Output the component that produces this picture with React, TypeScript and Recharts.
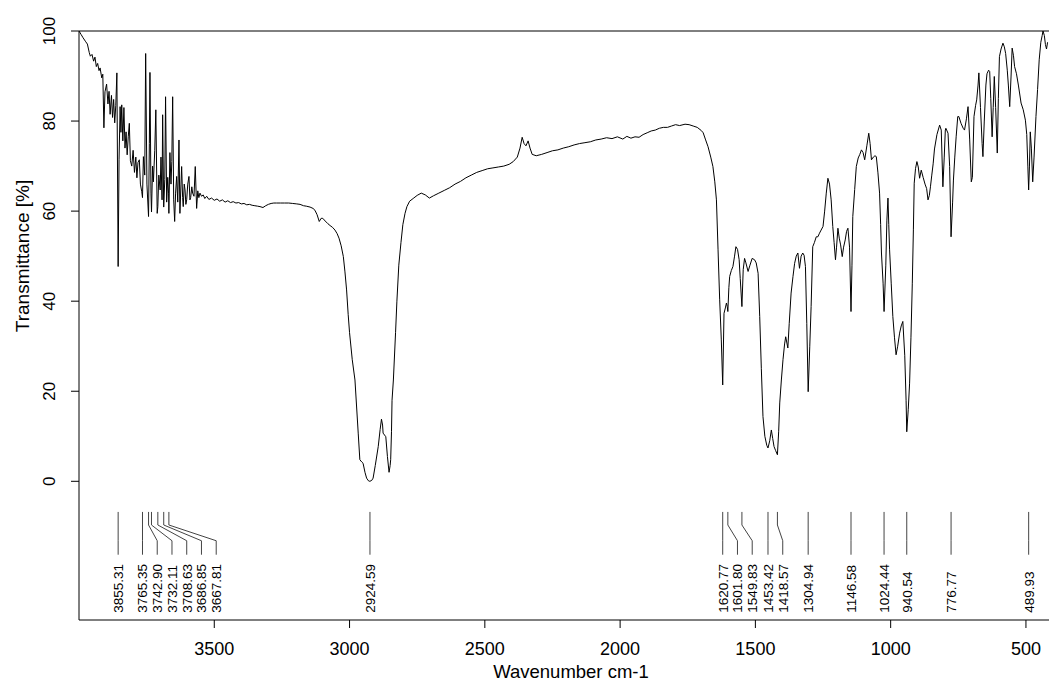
import React from 'react';
import { LineChart, Line, XAxis, YAxis, ReferenceLine, ReferenceDot, Label } from 'recharts';

const FONT = '"Liberation Sans", Arial, Helvetica, sans-serif';

// O-H / overtone region (noisy)
const regionHigh: [number, number][] = [
  [4000, 100], [3992, 99.2], [3985, 98.5], [3975, 97.6], [3969, 97.1], [3962, 95.2], [3958, 94.4],
  [3952, 94.8], [3946, 93.3], [3941, 94.2], [3936, 92.1], [3931, 92.8], [3926, 91.2], [3922, 91.8],
  [3916, 89.6], [3912, 90.4], [3908, 78.5], [3904, 86.5], [3898, 88.2], [3893, 83.8], [3889, 86.6],
  [3885, 81.5], [3880, 85.7], [3876, 80.8], [3872, 84.8], [3868, 79.6], [3864, 83.5], [3860, 90.7],
  [3855.3, 47.7], [3852, 71.4], [3848, 83.2], [3845, 77.5], [3842, 83.6], [3838, 75.6], [3834, 83.0],
  [3830, 74.0], [3826, 77.6], [3822, 72.5], [3818, 76.5], [3814, 79.5], [3810, 71.2], [3805, 70.0],
  [3800, 73.5], [3795, 68.6], [3790, 72.0], [3786, 67.4], [3782, 70.8], [3777, 71.4], [3773, 66.0],
  [3768, 64.3], [3765.3, 63.0], [3762, 72.1], [3757, 68.0], [3753.6, 95.0], [3749, 66.0], [3743, 58.8],
  [3740, 75.0], [3737.7, 90.8], [3734, 64.0], [3732, 59.8], [3728, 70.0], [3725, 66.5], [3720, 73.5],
  [3716, 82.5], [3711, 59.5], [3708.6, 61.0], [3705, 68.0], [3700, 64.7], [3697, 72.0], [3693, 62.5],
  [3690.8, 81.4], [3686.9, 60.9], [3683, 67.0], [3680, 85.4], [3676, 62.0], [3672, 67.5], [3669, 64.0],
  [3667.8, 59.5], [3664, 73.0], [3660, 66.0], [3657, 71.0], [3653.8, 85.4], [3650, 62.5], [3646.4, 57.7],
  [3643, 64.0], [3639, 67.7], [3635, 62.0], [3630.5, 75.8], [3627, 59.5], [3623, 66.0], [3620.6, 69.9],
  [3617, 63.0], [3614.7, 61.0], [3611, 66.0], [3608, 64.7], [3605, 61.5], [3602, 62.5], [3598, 66.0],
  [3593.6, 67.7], [3590, 62.5], [3587.3, 63.0], [3583, 65.4], [3580, 64.0], [3575, 63.3], [3570.3, 69.9],
  [3565.2, 60.6], [3561, 64.5], [3557, 63.0], [3553, 64.0],
];

// plateau and C-H stretch
const regionCH: [number, number][] = [
  [3547, 63.3], [3541, 63.6], [3535, 62.8], [3528, 63.3], [3520, 62.6], [3510, 62.9], [3500, 62.4],
  [3490, 62.7], [3480, 62.2], [3470, 62.5], [3460, 62.0], [3450, 62.3], [3440, 61.9], [3430, 62.1],
  [3420, 61.8], [3410, 61.9], [3400, 61.6], [3390, 61.7], [3380, 61.4], [3370, 61.5], [3360, 61.3],
  [3350, 61.2], [3340, 61.1], [3331, 61.0], [3320, 60.8], [3310, 61.2], [3300, 61.5], [3290, 61.7],
  [3280, 61.8], [3270, 61.8], [3255, 61.8], [3240, 61.8], [3225, 61.8], [3210, 61.7], [3195, 61.6],
  [3183, 61.5], [3170, 61.2], [3160, 61.1], [3146, 60.9], [3135, 60.6], [3128, 60.2], [3120, 59.2],
  [3112, 57.7], [3105, 58.4], [3099, 58.4], [3090, 57.8], [3080, 57.2], [3072, 56.8], [3063, 56.4],
  [3054, 55.8], [3046, 55.0], [3039, 54.0], [3031, 52.3], [3023, 49.9], [3017, 46.5], [3011, 42.5],
  [3005, 37.0], [3000, 33.0], [2990, 27.0], [2980, 22.5], [2968, 10.7], [2962, 4.8], [2955, 4.3],
  [2950, 4.0], [2943, 2.0], [2937, 0.7], [2930, 0.1], [2925, 0.0], [2918, 0.2], [2913, 0.7],
  [2905, 3.5], [2894, 7.7], [2887, 11.5], [2882, 13.8], [2878, 12.5], [2876, 10.7], [2866, 9.9],
  [2860, 5.5], [2854, 2.0], [2850, 3.5], [2848, 4.8], [2845, 11.0], [2843, 18.0], [2838, 22.5],
  [2830, 33.0], [2825, 40.0], [2818, 48.0], [2810, 53.0], [2803, 57.0], [2795, 59.5], [2788, 61.0],
  [2778, 62.2], [2765, 62.8], [2750, 63.5], [2735, 64.0], [2720, 63.6], [2705, 62.9], [2690, 63.4],
];

// mid range up to the carbonyl region
const regionMid: [number, number][] = [
  [2670, 64.0], [2650, 64.6], [2630, 65.2], [2610, 66.0], [2590, 66.6], [2570, 67.4], [2550, 68.0],
  [2530, 68.6], [2510, 69.0], [2490, 69.4], [2470, 69.6], [2450, 69.8], [2430, 70.0], [2410, 70.4],
  [2395, 71.0], [2380, 72.0], [2370, 74.0], [2362, 76.4], [2355, 75.0], [2348, 74.5], [2340, 75.6],
  [2333, 74.0], [2325, 72.6], [2310, 72.3], [2290, 72.6], [2270, 73.0], [2250, 73.4], [2230, 73.6],
  [2210, 74.0], [2190, 74.3], [2170, 74.7], [2150, 75.0], [2130, 75.2], [2110, 75.4], [2090, 75.8],
  [2070, 76.0], [2050, 76.3], [2030, 76.1], [2010, 76.5], [1990, 76.0], [1975, 76.6], [1960, 76.2],
  [1945, 76.5], [1930, 76.4], [1915, 77.0], [1900, 77.4], [1885, 77.8], [1870, 78.0], [1855, 78.4],
  [1840, 78.6], [1825, 78.6], [1810, 78.9], [1795, 79.2], [1780, 79.0], [1760, 79.3], [1745, 79.2],
  [1730, 78.9], [1715, 78.6], [1700, 77.9], [1693, 77.4], [1685, 76.0], [1675, 74.3], [1665, 72.0],
  [1657, 69.9], [1650, 66.5], [1644, 62.5], [1638, 51.4], [1632, 40.3], [1626, 31.4],
];

// fingerprint region
const regionFinger: [number, number][] = [
  [1620.8, 21.4], [1616, 37.3], [1611, 38.5], [1607, 39.6], [1604, 38.8], [1601.8, 37.7], [1598, 43.0],
  [1595, 45.5], [1589, 46.8], [1583, 47.7], [1577, 50.0], [1572, 52.1], [1566, 51.5], [1560, 49.2],
  [1556, 45.0], [1549.8, 38.8], [1545, 47.0], [1540, 49.5], [1535, 48.5], [1527, 46.6], [1520, 48.0],
  [1512, 49.5], [1503, 49.2], [1497, 48.5], [1490, 46.2], [1484, 36.6], [1478, 25.0], [1472, 14.4],
  [1465, 10.0], [1458, 8.0], [1453.4, 7.4], [1447, 9.0], [1441, 11.4], [1436, 9.5], [1431, 7.7],
  [1425, 6.8], [1418.6, 5.9], [1414, 11.0], [1410, 17.4], [1404, 22.5], [1398, 27.0], [1392, 30.5],
  [1388, 32.1], [1380, 29.6], [1375, 35.0], [1368, 41.8], [1361, 45.5], [1355, 48.4], [1349, 50.0],
  [1343, 50.7], [1337, 47.3], [1331, 50.0], [1325, 50.7], [1320, 50.2], [1315, 47.7], [1310, 35.0],
  [1304.9, 19.9], [1299, 30.0], [1294, 38.8], [1288, 52.1], [1282, 53.0], [1275, 54.3], [1269, 54.3],
  [1263, 55.1], [1257, 55.8], [1250, 56.6], [1244, 60.0], [1238, 64.0], [1232, 67.3], [1226, 66.0],
  [1220, 62.5], [1214, 56.6], [1209, 53.0], [1204, 49.2], [1200, 52.0], [1195, 56.2], [1190, 54.0],
  [1185, 52.5], [1179, 49.9], [1174, 52.0], [1168, 53.6], [1163, 55.5], [1158, 56.2], [1152, 52.0],
  [1146.6, 37.7], [1143, 48.0], [1140, 58.8], [1133, 64.8], [1127, 69.9], [1120, 71.8], [1114, 72.6],
  [1108, 73.6], [1102, 73.0], [1096, 71.4], [1088, 74.5], [1081, 77.3], [1076, 75.0], [1071, 71.4],
  [1064, 72.0], [1058, 72.3], [1053, 72.1], [1047, 68.5], [1041, 64.0], [1037, 57.0], [1034, 50.7],
  [1028, 44.0], [1024.4, 37.7], [1018, 48.0], [1014, 58.0], [1010, 62.9], [1007, 57.0], [1004, 51.4],
  [998, 44.0], [992, 36.6], [986, 32.0], [980, 28.1], [974, 30.0], [967, 32.9], [961, 34.5],
  [955, 35.5], [948, 28.0], [943, 18.0], [940.5, 11.0], [935, 16.0], [930, 21.8], [925, 32.0],
  [920, 44.0], [916, 56.0], [913, 66.2], [908, 69.5], [903, 71.0], [898, 69.8], [893, 67.3],
  [887, 69.1], [880, 67.5], [873, 66.0], [867, 65.0], [862, 62.5], [857, 63.5], [853, 65.4],
  [848, 68.0], [843, 70.5], [838, 73.8], [829, 77.0], [819, 79.1], [813, 78.0], [807, 65.4],
  [802, 72.0], [798, 78.0], [796, 78.4], [788, 77.3], [782, 69.9], [776.8, 54.3], [771, 62.0],
  [768, 66.9], [763, 72.0], [758, 76.5], [752, 81.0], [748, 81.0], [740, 79.5], [732, 78.4],
  [727, 78.0], [720, 80.5], [714, 83.2], [708, 76.0], [702, 66.5], [698, 67.5], [692, 81.0],
  [686, 83.5], [682, 84.7], [677, 88.0], [674, 90.7], [668, 83.0], [662, 75.0], [659, 72.1],
  [654, 80.0], [648, 88.0], [644, 90.5], [638, 91.3], [634, 91.0], [630, 85.0], [625, 76.5],
  [621, 83.0], [617, 89.9], [612, 83.0], [606, 72.9], [602, 85.0], [598, 94.3], [592, 96.0],
  [585, 97.3], [580, 96.5], [575, 95.0], [569, 91.3], [565, 88.0], [560, 83.2], [555, 90.0],
  [551, 96.2], [546, 94.5], [542, 92.1], [535, 90.5], [528, 88.0], [518, 84.0], [510, 82.5],
  [502, 80.2], [497, 77.0], [493, 70.0], [490, 64.7], [487, 70.0], [484, 77.6], [480, 74.0],
  [475, 66.5], [470, 72.0], [463, 81.0], [457, 87.0], [451, 93.6], [445, 97.5], [440, 99.0],
  [437, 100.0], [432, 99.0], [428, 97.0], [424, 96.0], [420, 97.5],
];

const peakPositions = [
  3855.31, 3765.35, 3742.9, 3732.11, 3708.63, 3686.85, 3667.81, 2924.59, 1620.77, 1601.8,
  1549.83, 1453.42, 1418.57, 1304.94, 1146.58, 1024.44, 940.54, 776.77, 489.93,
];
const peakLabels = [
  '3855.31', '3765.35', '3742.90', '3732.11', '3708.63', '3686.85', '3667.81', '2924.59', '1620.77', '1601.80',
  '1549.83', '1453.42', '1418.57', '1304.94', '1146.58', '1024.44', '940.54', '776.77', '489.93',
];

const xTicks = [3500, 3000, 2500, 2000, 1500, 1000, 500];
const yTicks = [0, 20, 40, 60, 80, 100];

const spectrum = [...regionHigh, ...regionCH, ...regionMid, ...regionFinger].map(([w, t]) => ({ w, t }));

// label layout: keep labels at least MIN_SEP apart (in wavenumber units)
const MIN_SEP = 54.5;
const labelPositions: number[] = [];
peakPositions.forEach((p, i) => {
  if (i === 0) labelPositions.push(p);
  else labelPositions.push(Math.min(p, labelPositions[i - 1] - MIN_SEP));
});

const STEM_TOP = -6.8;
const BEND_A = -9.7;
const BEND_B = -13.2;
const STEM_BOTTOM = -16.3;
const TEXT_BASE = -29.2;

const XTick = (props: any) => {
  const { x, y, payload } = props;
  return (
    <text x={x} y={y + 27} textAnchor="middle" fontFamily={FONT} fontSize={18} fill="#000">
      {payload.value}
    </text>
  );
};

const YTick = (props: any) => {
  const { x, y, payload } = props;
  const tx = x - 16;
  return (
    <text
      x={tx}
      y={y}
      textAnchor="middle"
      transform={`rotate(-90 ${tx} ${y})`}
      fontFamily={FONT}
      fontSize={17}
      fill="#000"
    >
      {payload.value}
    </text>
  );
};

const XLabel = () => (
  <text x={571} y={678} textAnchor="middle" fontFamily={FONT} fontSize={18.5} fill="#000">
    Wavenumber cm-1
  </text>
);

const YLabel = () => (
  <text
    x={28.5}
    y={256}
    textAnchor="middle"
    transform="rotate(-90 28.5 256)"
    fontFamily={FONT}
    fontSize={19}
    fill="#000"
  >
    Transmittance [%]
  </text>
);

export default function App() {
  return (
    <div
      style={{
        position: 'absolute',
        left: 0,
        top: 0,
        width: 1049,
        height: 689,
        overflow: 'hidden',
        background: '#fff',
      }}
    >
      <LineChart
        width={1060}
        height={689}
        data={spectrum}
        margin={{ top: 31, right: 7, bottom: 0, left: 0 }}
      >
        <XAxis
          dataKey="w"
          type="number"
          domain={[400, 4000]}
          reversed
          allowDataOverflow
          ticks={xTicks}
          interval={0}
          height={69}
          tickSize={8}
          tickMargin={0}
          axisLine={{ stroke: '#000' }}
          tickLine={{ stroke: '#000' }}
          tick={XTick}
          label={<Label content={XLabel} />}
        />
        <YAxis
          type="number"
          domain={[-30.8, 100]}
          allowDataOverflow
          ticks={yTicks}
          interval={0}
          width={79}
          tickSize={8}
          tickMargin={0}
          axisLine={{ stroke: '#000' }}
          tickLine={{ stroke: '#000' }}
          tick={YTick}
          label={<Label content={YLabel} />}
        />
        <ReferenceLine y={100} stroke="#000" ifOverflow="visible" />
        {peakPositions.map((p, i) => (
          <ReferenceLine
            key={`a${i}`}
            segment={[{ x: p, y: STEM_TOP }, { x: p, y: BEND_A }]}
            stroke="#444"
            ifOverflow="visible"
          />
        ))}
        {peakPositions.map((p, i) => (
          <ReferenceLine
            key={`b${i}`}
            segment={[{ x: p, y: BEND_A }, { x: labelPositions[i], y: BEND_B }]}
            stroke="#444"
            ifOverflow="visible"
          />
        ))}
        {peakPositions.map((p, i) => (
          <ReferenceLine
            key={`c${i}`}
            segment={[{ x: labelPositions[i], y: BEND_B }, { x: labelPositions[i], y: STEM_BOTTOM }]}
            stroke="#444"
            ifOverflow="visible"
          />
        ))}
        {peakLabels.map((lbl, i) => (
          <ReferenceDot
            key={`t${i}`}
            x={labelPositions[i]}
            y={TEXT_BASE}
            r={0}
            ifOverflow="visible"
            shape={(sp: any) => (
              <text
                x={sp.cx}
                y={sp.cy}
                dy="0.36em"
                textAnchor="start"
                transform={`rotate(-90 ${sp.cx} ${sp.cy})`}
                fontFamily={FONT}
                fontSize={13.5}
                fill="#000"
              >
                {lbl}
              </text>
            )}
          />
        ))}
        <Line
          type="linear"
          dataKey="t"
          stroke="#000"
          strokeWidth={1}
          dot={false}
          activeDot={false}
          isAnimationActive={false}
        />
      </LineChart>
    </div>
  );
}
